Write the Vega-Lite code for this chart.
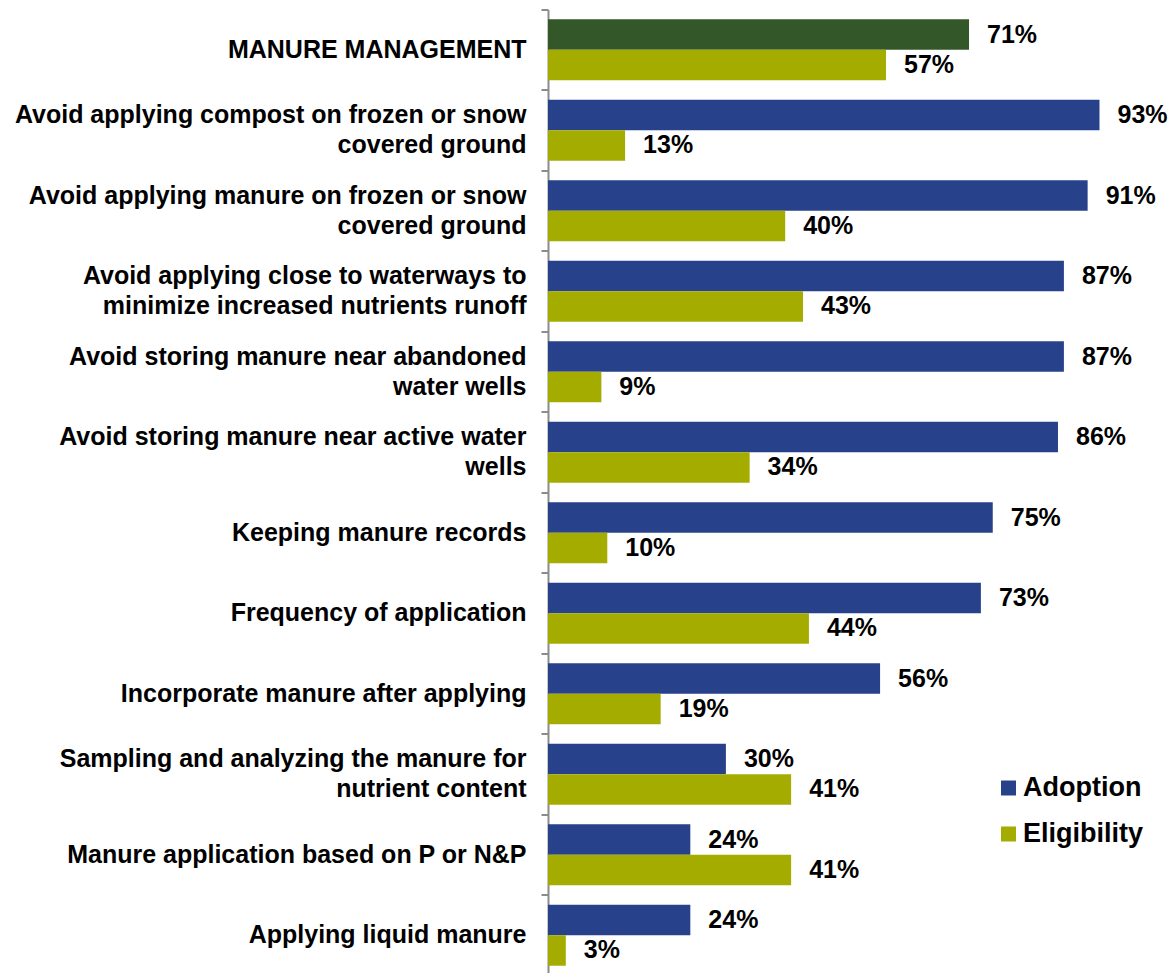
{
  "$schema": "https://vega.github.io/schema/vega-lite/v6.json",
  "autosize": {"type": "none"},
  "padding": {"left": 548, "top": 9.5, "right": 35, "bottom": 0},
  "width": 593,
  "height": 966,
  "background": "white",
  "config": {
    "view": {"stroke": null},
    "font": "Liberation Sans"
  },
  "data": {
    "values": [
      {"category": "MANURE MANAGEMENT", "series": "Adoption", "value": 0.71},
      {"category": "MANURE MANAGEMENT", "series": "Eligibility", "value": 0.57},
      {"category": "Avoid applying compost on frozen or snow|covered ground", "series": "Adoption", "value": 0.93},
      {"category": "Avoid applying compost on frozen or snow|covered ground", "series": "Eligibility", "value": 0.13},
      {"category": "Avoid applying manure on frozen or snow|covered ground", "series": "Adoption", "value": 0.91},
      {"category": "Avoid applying manure on frozen or snow|covered ground", "series": "Eligibility", "value": 0.40},
      {"category": "Avoid applying close to waterways to|minimize increased nutrients runoff", "series": "Adoption", "value": 0.87},
      {"category": "Avoid applying close to waterways to|minimize increased nutrients runoff", "series": "Eligibility", "value": 0.43},
      {"category": "Avoid storing manure near abandoned|water wells", "series": "Adoption", "value": 0.87},
      {"category": "Avoid storing manure near abandoned|water wells", "series": "Eligibility", "value": 0.09},
      {"category": "Avoid storing manure near active water|wells", "series": "Adoption", "value": 0.86},
      {"category": "Avoid storing manure near active water|wells", "series": "Eligibility", "value": 0.34},
      {"category": "Keeping manure records", "series": "Adoption", "value": 0.75},
      {"category": "Keeping manure records", "series": "Eligibility", "value": 0.10},
      {"category": "Frequency of application", "series": "Adoption", "value": 0.73},
      {"category": "Frequency of application", "series": "Eligibility", "value": 0.44},
      {"category": "Incorporate manure after applying", "series": "Adoption", "value": 0.56},
      {"category": "Incorporate manure after applying", "series": "Eligibility", "value": 0.19},
      {"category": "Sampling and analyzing the manure for|nutrient content", "series": "Adoption", "value": 0.30},
      {"category": "Sampling and analyzing the manure for|nutrient content", "series": "Eligibility", "value": 0.41},
      {"category": "Manure application based on P or N&P", "series": "Adoption", "value": 0.24},
      {"category": "Manure application based on P or N&P", "series": "Eligibility", "value": 0.41},
      {"category": "Applying liquid manure", "series": "Adoption", "value": 0.24},
      {"category": "Applying liquid manure", "series": "Eligibility", "value": 0.03}
    ]
  },
  "encoding": {
    "y": {
      "field": "category",
      "type": "nominal",
      "sort": null,
      "scale": {"paddingInner": 0, "paddingOuter": 0},
      "axis": {
        "title": null,
        "bandPosition": 0,
        "labelExpr": "split(datum.label, '|')",
        "labelOffset": {"condition": {"test": "indexof(datum.value, '|') >= 0", "value": -15}, "value": 0},
        "labelFont": "Liberation Sans",
        "labelFontWeight": "bold",
        "labelFontSize": 25,
        "labelLineHeight": 30,
        "labelColor": "#000000",
        "labelLimit": 600,
        "labelPadding": 15,
        "tickSize": 7,
        "tickColor": "#8c8c8c",
        "tickWidth": 2,
        "domainColor": "#8c8c8c",
        "domainWidth": 2,
        "grid": false
      }
    },
    "yOffset": {
      "field": "series",
      "type": "nominal",
      "sort": ["Adoption", "Eligibility"],
      "scale": {"paddingInner": 0, "paddingOuter": 0.32}
    },
    "x": {
      "field": "value",
      "type": "quantitative",
      "scale": {"domain": [0, 1], "nice": false},
      "axis": null
    }
  },
  "layer": [
    {
      "mark": {"type": "bar", "cornerRadius": 0},
      "encoding": {
        "color": {
          "field": "series",
          "type": "nominal",
          "scale": {"domain": ["Adoption", "Eligibility"], "range": ["#27428a", "#a4ac00"]},
          "legend": {
            "title": null,
            "orient": "none",
            "legendX": 447,
            "legendY": 765,
            "padding": 0,
            "symbolType": "square",
            "symbolSize": 225,
            "symbolStrokeWidth": 0,
            "labelFont": "Liberation Sans",
            "labelFontWeight": "bold",
            "labelFontSize": 27,
            "labelColor": "#000000",
            "labelOffset": 1,
            "rowPadding": 18
          },
          "condition": {
            "test": "datum.category === 'MANURE MANAGEMENT' && datum.series === 'Adoption'",
            "value": "#335728"
          }
        }
      }
    },
    {
      "mark": {
        "type": "text",
        "align": "left",
        "baseline": "middle",
        "dx": 18,
        "font": "Liberation Sans",
        "fontWeight": "bold",
        "fontSize": 25,
        "color": "#000000"
      },
      "encoding": {
        "text": {"field": "value", "type": "quantitative", "format": ".0%"}
      }
    }
  ]
}
